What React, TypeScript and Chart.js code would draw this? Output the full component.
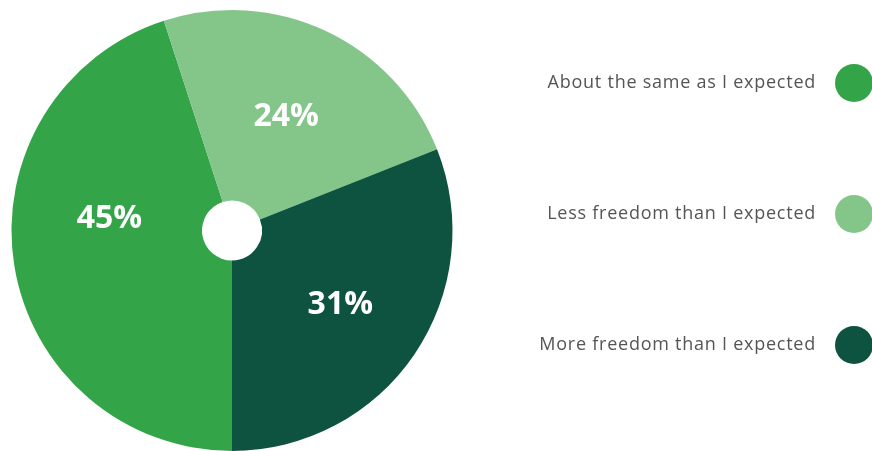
import React, { useEffect, useRef } from "react";
import { Chart, registerables } from "chart.js";

Chart.register(...registerables);

const categories = [
  "About the same as I expected",
  "Less freedom than I expected",
  "More freedom than I expected",
];
const values = [45, 24, 31];
const valueLabels = ["45%", "24%", "31%"];
const colors = ["#33a548", "#84c68a", "#0d5340"];

const sliceLabelPlugin = {
  id: "sliceLabels",
  afterDatasetsDraw(chart: any, _args: any, opts: any) {
    const ctx = chart.ctx;
    const meta = chart.getDatasetMeta(0);
    const shifts: number[] = opts.angleShiftDeg || [];
    const radial: number[] = opts.radial || [];
    ctx.save();
    ctx.fillStyle = "#ffffff";
    ctx.font = "700 32px 'Open Sans', sans-serif";
    ctx.textAlign = "center";
    ctx.textBaseline = "middle";
    meta.data.forEach((arc: any, i: number) => {
      const p = arc.getProps(["x", "y", "startAngle", "endAngle", "innerRadius", "outerRadius"], true);
      const mid = (p.startAngle + p.endAngle) / 2 + ((shifts[i] || 0) * Math.PI) / 180;
      const r = p.innerRadius + (p.outerRadius - p.innerRadius) * (radial[i] ?? 0.52);
      ctx.fillText(valueLabels[i], p.x + Math.cos(mid) * r, p.y + Math.sin(mid) * r + 1);
    });
    ctx.restore();
  },
};

export default function App() {
  const ref = useRef<HTMLCanvasElement>(null);
  useEffect(() => {
    if (!ref.current) return;
    const chart = new Chart(ref.current, {
      type: "doughnut",
      data: {
        labels: categories,
        datasets: [
          {
            data: values,
            backgroundColor: colors,
            borderWidth: 0,
          },
        ],
      },
      options: {
        responsive: false,
        animation: false,
        rotation: 180,
        cutout: "13.6%",
        layout: { padding: { left: 11, right: 419, top: 10, bottom: 0 } },
        plugins: {
          legend: { display: false },
          tooltip: { enabled: false },
          sliceLabels: { angleShiftDeg: [15, 0, 0], radial: [0.49, 0.51, 0.53] },
        } as any,
      },
      plugins: [sliceLabelPlugin],
    });
    return () => chart.destroy();
  }, []);

  return (
    <div style={{ position: "fixed", left: 0, top: 0, width: 872, height: 451, background: "#fff", overflow: "hidden" }}>
      <canvas ref={ref} width={872} height={451} style={{ position: "absolute", left: 0, top: 0 }} />
      <div style={{ position: "absolute", left: 460, top: 17, width: 412 }}>
        {categories.map((c, i) => (
          <div key={c} style={{ height: 131, display: "flex", alignItems: "center", justifyContent: "flex-end", position: "relative" }}>
            <span style={{ fontFamily: "'Open Sans', sans-serif", fontSize: 18, letterSpacing: 0.75, color: "#555555", marginRight: 56, position: "relative", top: -2 }}>{c}</span>
            <span style={{ position: "absolute", left: 375, top: 65.5 - 19, width: 38, height: 38, borderRadius: "50%", background: colors[i] }} />
          </div>
        ))}
      </div>
    </div>
  );
}
